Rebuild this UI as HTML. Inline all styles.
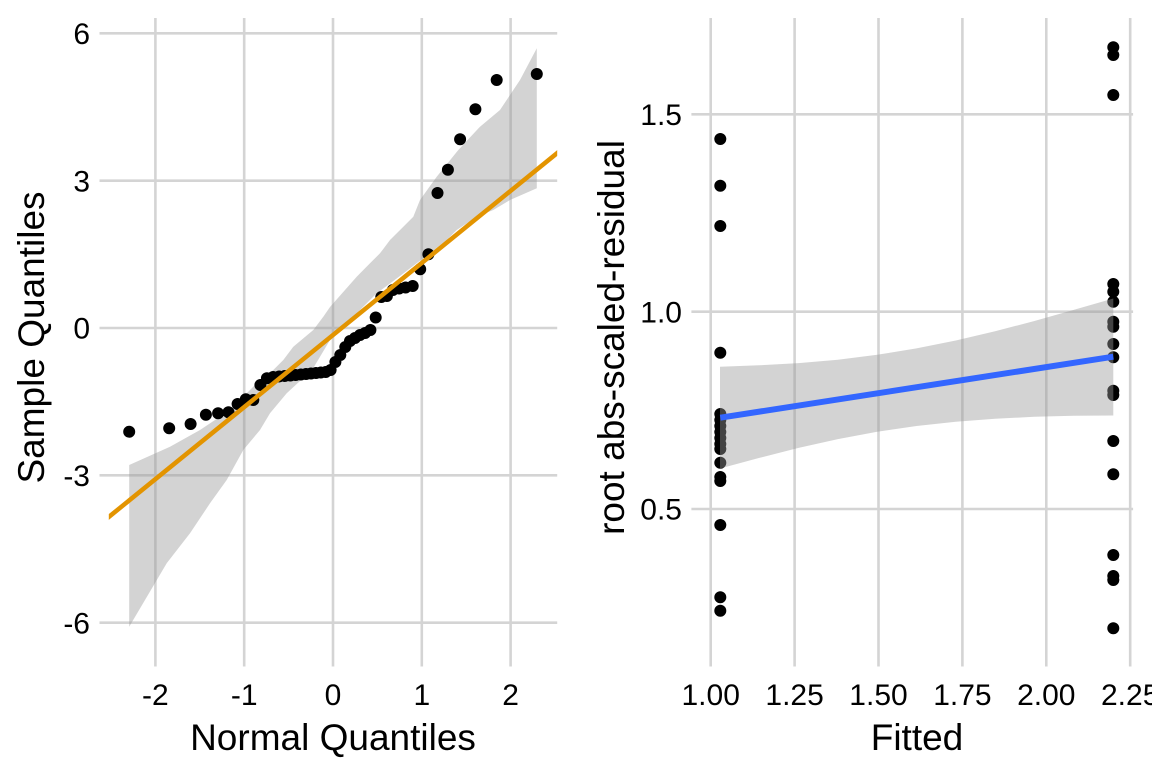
<!DOCTYPE html>
<html>
<head>
<meta charset="utf-8">
<style>
html,body{margin:0;padding:0;background:#fff}
svg{display:block}
text{font-family:"Liberation Sans",Arial,sans-serif;fill:#000}
.tick{font-size:30px}
.title{font-size:37px}
</style>
</head>
<body>
<svg width="1152" height="768" viewBox="0 0 1152 768" xmlns="http://www.w3.org/2000/svg">
<defs>
<clipPath id="cl"><rect x="108.8" y="18" width="448.4" height="639"/></clipPath>
<clipPath id="cr"><rect x="700.7" y="18" width="432.4" height="639"/></clipPath>
</defs>
<rect width="1152" height="768" fill="#fff"/>

<path stroke="#d4d4d4" stroke-width="2.6" fill="none" d="M99.5 33.3H557.2M99.5 180.7H557.2M99.5 328H557.2M99.5 475.3H557.2M99.5 622.7H557.2M155.4 18V666.5M244.2 18V666.5M333 18V666.5M421.8 18V666.5M510.6 18V666.5"/>

<g clip-path="url(#cl)">
<polygon fill="rgb(153,153,153)" fill-opacity="0.43" points="129.2,465 170,446.7 200,430 230,410 255,385 273.3,370 283.3,360 293.3,346.7 313.3,330 323.3,316.7 330,307 345,290 356.7,276.7 370,263.3 380,253.3 390,240 403.3,226.7 413.3,216.7 420,200 436.7,176.7 458.3,150 480,126.7 500,110 520,80 536.8,48.3 536.8,188.3 510,200 493.3,210 476.7,216.7 456.7,230 446.7,240 430,253 400,276 376.7,293.3 360,310 330,340 313.3,368 300,381 286.7,393.3 270,413.3 260,430 243.3,450 226.7,480 210,503.3 190,533.3 166.7,563.3 129.2,626.7"/>
<path stroke="#000" stroke-width="12" stroke-linecap="round" fill="none" d="M129.2 431.7h0M169.2 428.3h0M190.6 424h0M205.9 414.7h0M218.1 413.3h0M228.5 412.3h0M237.6 404h0M245.8 399.3h0M253.3 400h0M260.4 385h0M266.9 378.3h0M273.1 377h0M279.1 376.5h0M284.7 376h0M290.3 375.5h0M295.6 375h0M300.9 374.5h0M306 374h0M311 373.5h0M316 373h0M320.8 372.5h0M325.7 372h0M330.6 370h0M335.4 362h0M340.3 355h0M345.3 347h0M350 341h0M355 338h0M360 335h0M365.1 333h0M370.4 330h0M375.7 317.5h0M381.3 297h0M386.9 296h0M392.9 290h0M399.1 288.5h0M405.6 287.5h0M412.7 286h0M420.2 269.3h0M428.4 254.3h0M437.5 193h0M447.9 169.7h0M460.1 139.3h0M475.4 109.3h0M496.7 80h0M536.8 74h0"/>
<line x1="100" y1="524.1" x2="566" y2="145.9" stroke="#E39400" stroke-width="4.5"/>
</g>

<g class="tick" text-anchor="end">
<text x="90" y="44">6</text>
<text x="90" y="191.3">3</text>
<text x="90" y="338.6">0</text>
<text x="90" y="485.9">-3</text>
<text x="90" y="633.3">-6</text>
</g>
<g class="tick" text-anchor="middle">
<text x="155.4" y="705">-2</text>
<text x="244.2" y="705">-1</text>
<text x="333" y="705">0</text>
<text x="421.8" y="705">1</text>
<text x="510.6" y="705">2</text>
</g>
<text class="title" x="333" y="750" text-anchor="middle">Normal Quantiles</text>
<text class="title" text-anchor="middle" transform="translate(44,337.5) rotate(-90)">Sample Quantiles</text>

<path stroke="#d4d4d4" stroke-width="2.6" fill="none" d="M691.4 114.3H1133.1M691.4 311.7H1133.1M691.4 509H1133.1M710.7 18V666.5M794.6 18V666.5M878.5 18V666.5M962.4 18V666.5M1046.3 18V666.5M1130.2 18V666.5"/>

<g clip-path="url(#cr)">
<path stroke="#000" stroke-width="12" stroke-linecap="round" fill="none" d="M720.3 139h0M720.3 185.7h0M720.3 226h0M720.3 352.7h0M720.3 414h0M720.3 420h0M720.3 426h0M720.3 432h0M720.3 438h0M720.3 444h0M720.3 449h0M720.3 462.7h0M720.3 477h0M720.3 481h0M720.3 525h0M720.3 597.3h0M720.3 610.7h0M1113.3 47.3h0M1113.3 55h0M1113.3 95h0M1113.3 284h0M1113.3 291.7h0M1113.3 301.7h0M1113.3 321.7h0M1113.3 326.7h0M1113.3 344h0M1113.3 357.3h0M1113.3 390.7h0M1113.3 395h0M1113.3 441h0M1113.3 474.3h0M1113.3 555h0M1113.3 576h0M1113.3 580h0M1113.3 628.3h0"/>
<polygon fill="rgb(153,153,153)" fill-opacity="0.43" points="720,366.7 759.3,365.3 798.6,363.1 837.9,359.7 877.2,354.8 916.5,348.4 955.8,340.5 995.1,331.3 1034.4,321 1073.7,309.9 1113.3,298.5 1113.3,415.5 1073.7,415.7 1034.4,416.8 995.1,418.7 955.8,421.7 916.5,426 877.2,431.8 837.9,439.1 798.6,447.9 759.3,457.9 720,468.5"/>
<line x1="720.3" y1="417.7" x2="1113.3" y2="356.7" stroke="#3366FF" stroke-width="6"/>
</g>

<g class="tick" text-anchor="end">
<text x="682" y="124.9">1.5</text>
<text x="682" y="322.3">1.0</text>
<text x="682" y="519.6">0.5</text>
</g>
<g class="tick" text-anchor="middle">
<text x="710.7" y="705">1.00</text>
<text x="794.6" y="705">1.25</text>
<text x="878.5" y="705">1.50</text>
<text x="962.4" y="705">1.75</text>
<text x="1046.3" y="705">2.00</text>
<text x="1130.2" y="705">2.25</text>
</g>
<text class="title" x="917" y="750" text-anchor="middle">Fitted</text>
<text class="title" text-anchor="middle" transform="translate(624,337.5) rotate(-90)">root abs-scaled-residual</text>
</svg>
</body>
</html>
